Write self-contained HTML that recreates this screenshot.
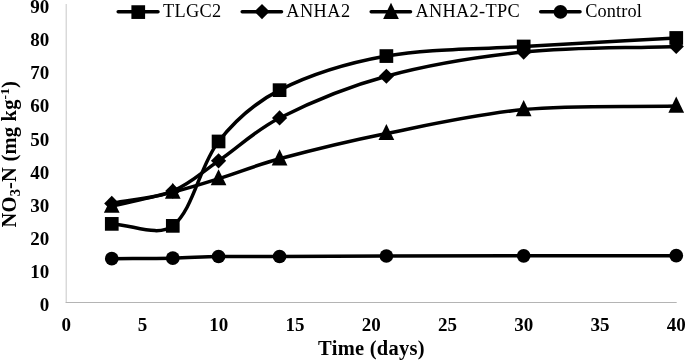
<!DOCTYPE html>
<html><head><meta charset="utf-8"><title>Chart</title>
<style>
html,body{margin:0;padding:0;background:#fff;}
body{width:685px;height:360px;overflow:hidden;}
svg{display:block;}
svg text{font-family:"Liberation Serif",serif;fill:#000;}
</style></head><body>
<svg width="685" height="360" viewBox="0 0 685 360">
<defs><filter id="gs" x="0" y="0" width="100%" height="100%" color-interpolation-filters="sRGB"><feColorMatrix type="saturate" values="0"/></filter></defs>
<rect width="685" height="360" fill="#fff"/>
<g filter="url(#gs)">
<path d="M66.2,4 V303" fill="none" stroke="#cdcdcd" stroke-width="1.1"/><path d="M65.7,302.5 H676.7" fill="none" stroke="#b4b4b4" stroke-width="1"/>
<text x="49.2" y="311.00" text-anchor="end" font-size="19" font-weight="bold">0</text>
<text x="49.2" y="277.90" text-anchor="end" font-size="19" font-weight="bold">10</text>
<text x="49.2" y="244.80" text-anchor="end" font-size="19" font-weight="bold">20</text>
<text x="49.2" y="211.70" text-anchor="end" font-size="19" font-weight="bold">30</text>
<text x="49.2" y="178.60" text-anchor="end" font-size="19" font-weight="bold">40</text>
<text x="49.2" y="145.50" text-anchor="end" font-size="19" font-weight="bold">50</text>
<text x="49.2" y="112.40" text-anchor="end" font-size="19" font-weight="bold">60</text>
<text x="49.2" y="79.30" text-anchor="end" font-size="19" font-weight="bold">70</text>
<text x="49.2" y="46.20" text-anchor="end" font-size="19" font-weight="bold">80</text>
<text x="49.2" y="13.10" text-anchor="end" font-size="19" font-weight="bold">90</text>
<text x="66.25" y="330.8" text-anchor="middle" font-size="19" font-weight="bold">0</text>
<text x="142.50" y="330.8" text-anchor="middle" font-size="19" font-weight="bold">5</text>
<text x="218.75" y="330.8" text-anchor="middle" font-size="19" font-weight="bold">10</text>
<text x="295.00" y="330.8" text-anchor="middle" font-size="19" font-weight="bold">15</text>
<text x="371.25" y="330.8" text-anchor="middle" font-size="19" font-weight="bold">20</text>
<text x="447.50" y="330.8" text-anchor="middle" font-size="19" font-weight="bold">25</text>
<text x="523.75" y="330.8" text-anchor="middle" font-size="19" font-weight="bold">30</text>
<text x="600.00" y="330.8" text-anchor="middle" font-size="19" font-weight="bold">35</text>
<text x="676.25" y="330.8" text-anchor="middle" font-size="19" font-weight="bold">40</text>
<text x="371.5" y="355.3" text-anchor="middle" font-size="20.5" font-weight="bold" letter-spacing="0.27">Time (days)</text>
<text transform="translate(16.2,154.2) rotate(-90)" text-anchor="middle" font-size="20.5" font-weight="bold" letter-spacing="0.2">NO<tspan font-size="14.5" dy="3.4">3</tspan><tspan dy="-3.4">-N (mg kg</tspan><tspan font-size="13.3" dy="-7">-1</tspan><tspan dy="7">)</tspan></text>
<path d="M111.77,223.88 C132.11,224.55 157.87,237.39 172.79,225.87 C193.28,210.06 199.62,165.53 218.56,141.47 C235.19,120.34 255.01,102.67 279.58,90.16 C310.78,74.29 348.65,62.82 386.38,56.07 C429.93,48.27 477.15,49.37 523.68,46.47 C573.74,43.34 625.39,40.80 676.24,37.96" fill="none" stroke="#000" stroke-width="3.5" stroke-linecap="round" stroke-linejoin="round"/>
<rect x="104.92" y="217.03" width="13.70" height="13.70"/>
<rect x="165.94" y="219.02" width="13.70" height="13.70"/>
<rect x="211.71" y="134.62" width="13.70" height="13.70"/>
<rect x="272.73" y="83.31" width="13.70" height="13.70"/>
<rect x="379.53" y="49.22" width="13.70" height="13.70"/>
<rect x="516.83" y="39.62" width="13.70" height="13.70"/>
<rect x="669.39" y="31.11" width="13.70" height="13.70"/>
<path d="M111.77,203.46 C132.11,199.35 154.22,198.53 172.79,191.12 C189.80,184.33 202.70,171.69 218.56,160.83 C238.21,147.37 255.91,129.90 279.58,117.96 C311.58,101.84 348.51,86.48 386.38,76.26 C429.80,64.54 476.91,56.90 523.68,52.09 C573.51,46.97 625.39,48.34 676.24,46.47" fill="none" stroke="#000" stroke-width="3.5" stroke-linecap="round" stroke-linejoin="round"/>
<path d="M111.77,195.86 L119.37,203.46 L111.77,211.06 L104.17,203.46 Z"/>
<path d="M172.79,183.52 L180.39,191.12 L172.79,198.72 L165.19,191.12 Z"/>
<path d="M218.56,153.23 L226.16,160.83 L218.56,168.43 L210.96,160.83 Z"/>
<path d="M279.58,110.36 L287.18,117.96 L279.58,125.56 L271.98,117.96 Z"/>
<path d="M386.38,68.66 L393.98,76.26 L386.38,83.86 L378.78,76.26 Z"/>
<path d="M523.68,44.49 L531.28,52.09 L523.68,59.70 L516.08,52.09 Z"/>
<path d="M676.24,38.87 L683.84,46.47 L676.24,54.07 L668.64,46.47 Z"/>
<path d="M111.77,206.18 C132.11,201.50 153.34,197.15 172.79,192.14 C188.87,188.01 202.64,183.67 218.56,178.70 C238.16,172.59 256.97,164.90 279.58,158.81 C312.50,149.95 349.14,141.03 386.38,133.52 C430.39,124.65 476.91,114.01 523.68,109.59 C573.51,104.88 625.39,107.27 676.24,106.11" fill="none" stroke="#000" stroke-width="3.5" stroke-linecap="round" stroke-linejoin="round"/>
<path d="M111.77,196.68 L119.62,212.78 L103.92,212.78 Z"/>
<path d="M172.79,182.64 L180.64,198.74 L164.94,198.74 Z"/>
<path d="M218.56,169.20 L226.41,185.30 L210.71,185.30 Z"/>
<path d="M279.58,149.31 L287.43,165.41 L271.73,165.41 Z"/>
<path d="M386.38,124.02 L394.23,140.12 L378.53,140.12 Z"/>
<path d="M523.68,100.09 L531.53,116.19 L515.83,116.19 Z"/>
<path d="M676.24,96.61 L684.09,112.71 L668.39,112.71 Z"/>
<path d="M111.77,258.64 C132.11,258.47 153.25,258.54 172.79,258.14 C188.77,257.82 202.58,256.74 218.56,256.49 C238.10,256.18 257.20,256.55 279.58,256.49 C312.70,256.39 349.32,256.09 386.38,255.99 C430.55,255.87 477.16,255.88 523.68,255.83 C573.76,255.77 625.39,255.72 676.24,255.66" fill="none" stroke="#000" stroke-width="3.5" stroke-linecap="round" stroke-linejoin="round"/>
<circle cx="111.77" cy="258.64" r="6.85"/>
<circle cx="172.79" cy="258.14" r="6.85"/>
<circle cx="218.56" cy="256.49" r="6.85"/>
<circle cx="279.58" cy="256.49" r="6.85"/>
<circle cx="386.38" cy="255.99" r="6.85"/>
<circle cx="523.68" cy="255.83" r="6.85"/>
<circle cx="676.24" cy="255.66" r="6.85"/>
<path d="M118.20,11.65 L158.00,11.65" stroke="#000" stroke-width="3.5" stroke-linecap="round"/>
<rect x="131.40" y="5.25" width="13.70" height="13.70"/>
<text x="163.00" y="17.3" font-size="18.3" font-weight="normal" letter-spacing="0.30">TLGC2</text>
<path d="M242.20,11.65 L281.50,11.65" stroke="#000" stroke-width="3.5" stroke-linecap="round"/>
<path d="M262.00,4.00 L269.60,11.60 L262.00,19.20 L254.40,11.60 Z"/>
<text x="286.30" y="17.3" font-size="18.3" font-weight="normal" letter-spacing="0.45">ANHA2</text>
<path d="M371.20,11.65 L410.50,11.65" stroke="#000" stroke-width="3.5" stroke-linecap="round"/>
<path d="M391.00,2.65 L398.85,19.00 L383.15,19.00 Z"/>
<text x="415.40" y="17.3" font-size="18.3" font-weight="normal" letter-spacing="0.33">ANHA2-TPC</text>
<path d="M540.70,11.65 L580.00,11.65" stroke="#000" stroke-width="3.5" stroke-linecap="round"/>
<circle cx="560.50" cy="11.95" r="6.85"/>
<text x="585.30" y="17.3" font-size="18.3" font-weight="normal" letter-spacing="0.10">Control</text>
</g>
</svg>
</body></html>
